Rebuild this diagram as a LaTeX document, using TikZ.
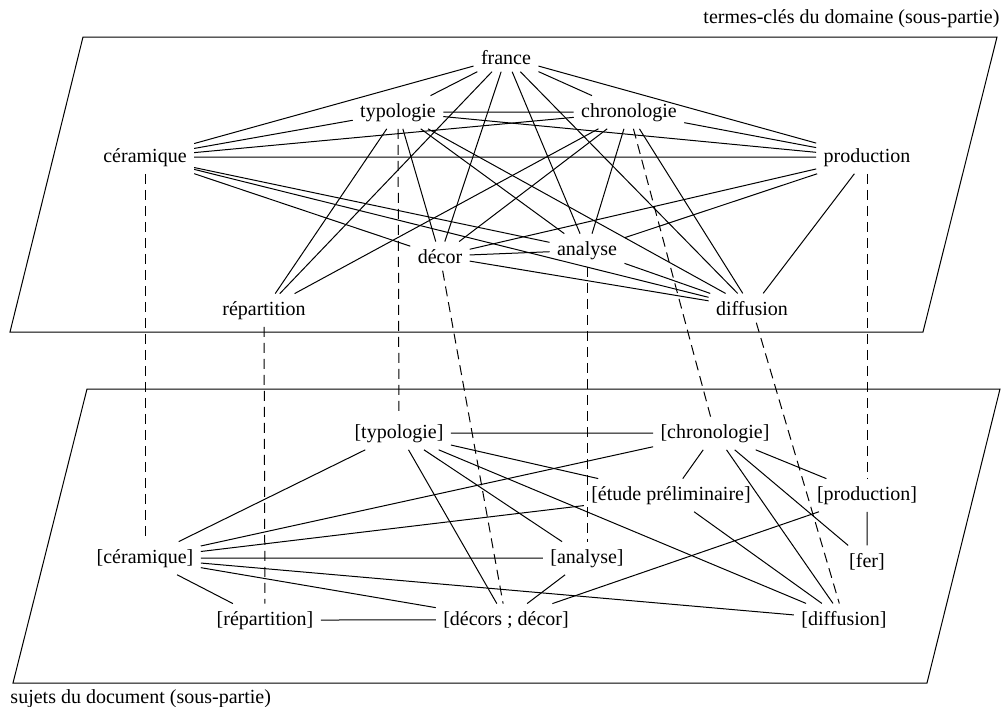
\documentclass[tikz,border=0pt]{standalone}
\usepackage{fontspec}
\setmainfont{Liberation Serif}
\usetikzlibrary{shapes}
\tikzset{>=latex}
\tikzset{term/.style={anchor=base, inner sep=3.5pt},
  lien/.style={dash pattern=on 5pt off 3pt}}

\begin{document}
\begin{tikzpicture}[x=0.5pt, y=-0.5pt, line width=0.5pt]
      \useasboundingbox (0,0) rectangle (1003,707);
      % les deux plans
      \draw (83,37) -- (997,37) -- (923,332) -- (10,332) -- cycle;
      \draw (87,389) -- (1000,389) -- (927,683) -- (13,683) -- cycle;
      \node at (1000,23) [anchor=base east, inner sep=0pt] {termes-clés du domaine (sous-partie)};
      \node at (10,703) [anchor=base west, inner sep=0pt] {sujets du document (sous-partie)};
      % termes-cles
      \node (fr) at (506,64) [term] {france};
      \node (ty) at (398,117) [term] {typologie};
      \node (ch) at (629,117) [term] {chronologie};
      \node (ce) at (145,162) [term] {céramique};
      \node (pr) at (867,162) [term] {production};
      \node (de) at (440,263) [term] {décor};
      \node (an) at (587,255) [term] {analyse};
      \node (re) at (264,315) [term] {répartition};
      \node (di) at (752,315) [term] {diffusion};
      \draw (fr) -- (ce) (fr) -- (ty) (fr) -- (re) (fr) -- (de)
            (fr) -- (an) (fr) -- (di) (fr) -- (ch) (fr) -- (pr);
      \draw (ty) -- (ch) (ty) -- (ce) (ty) -- (re) (ty) -- (de)
            (ty) -- (an) (ty) -- (di) (ty) -- (pr);
      \draw (ch) -- (ce) (ch) -- (pr) (ch) -- (de) (ch) -- (re)
            (ch) -- (an) (ch) -- (di);
      \draw (ce) -- (pr) (ce) -- (de) (ce) -- (an) (ce) -- (di);
      \draw (pr) -- (de) (pr) -- (an) (pr) -- (di);
      \draw (de) -- (an) (de) -- (di) (an) -- (di);
      % sujets
      \node (sty) at (399,438) [term] {[typologie]};
      \node (sch) at (715,438) [term] {[chronologie]};
      \node (set) at (671,500) [term] {[étude préliminaire]};
      \node (spr) at (867,500) [term] {[production]};
      \node (sce) at (145,563) [term] {[céramique]};
      \node (san) at (587,563) [term] {[analyse]};
      \node (sfe) at (867,567) [term] {[fer]};
      \node (sre) at (265,625) [term] {[répartition]};
      \node (sde) at (506,625) [term] {[décors ; décor]};
      \node (sdi) at (844,625) [term] {[diffusion]};
      \draw (sty) -- (sch) (sty) -- (sce) (sty) -- (set) (sty) -- (sde)
            (sty) -- (san) (sty) -- (sdi);
      \draw (sch) -- (sce) (sch) -- (set) (sch) -- (sdi) (sch) -- (sfe)
            (sch) -- (spr);
      \draw (set) -- (sce) (set) -- (sdi) (spr) -- (sfe) (spr) -- (sde);
      \draw (sce) -- (san) (sce) -- (sdi) (sce) -- (sde) (sce) -- (sre);
      \draw (sre) -- (sde) (san) -- (sde);
      % correspondances
      \draw[lien] (ce) -- (sce);
      \draw[lien] (re) -- (sre);
      \draw[lien] (ty) -- (sty);
      \draw[lien] (de) -- (sde);
      \draw[lien] (an) -- (san);
      \draw[lien] (ch) -- (sch);
      \draw[lien] (di) -- (sdi);
      \draw[lien] (pr) -- (spr);
\end{tikzpicture}
\end{document}
